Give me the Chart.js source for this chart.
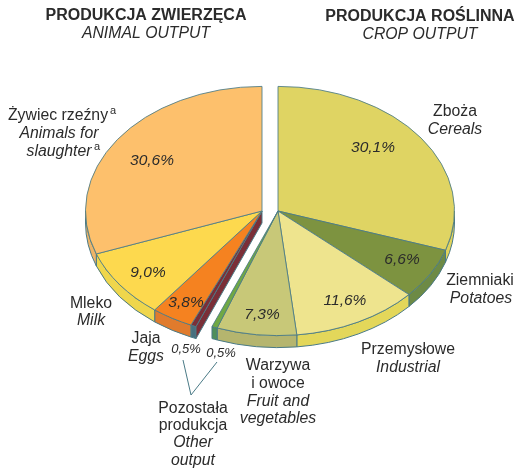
<!DOCTYPE html>
<html>
<head>
<meta charset="utf-8">
<script src="https://cdn.jsdelivr.net/npm/chart.js@4"></script>
<style>
  html, body { margin: 0; padding: 0; background: #fff; }
  #wrap { position: relative; width: 517px; height: 468px; }
</style>
</head>
<body>
<div id="wrap"><canvas id="pie" width="517" height="468"></canvas></div>
<script>
const cropNames = ['Zboża', 'Ziemniaki', 'Przemysłowe', 'Warzywa i owoce', 'Pozostała produkcja'];
const cropValues = [30.1, 6.6, 11.6, 7.3, 0.5];
const animalNames = ['Pozostała produkcja', 'Jaja', 'Mleko', 'Żywiec rzeźny'];
const animalValues = [0.5, 3.8, 9.0, 30.6];

const topColors = ['#dfd463', '#7d9340', '#eee48e', '#c8c878', '#70a844', '#7a2f38', '#f58220', '#fdd94e', '#fdc06c'];
const wallColors = ['#e0d35c', '#6d8a45', '#e3d75a', '#b5b56e', '#4f8f5a', '#47707f', '#e07b2d', '#efd64c', '#eeb467'];
const edgeColor = '#4a7a86';
const cutFaceColor = '#7a2f38';
const textColor = '#2b2b2b';

const groupShift = 8;
const squash = 0.706;
const depth = 12;

// [text, x, baseline, font kind]
const captions = [
  ['PRODUKCJA ZWIERZĘCA', 146, 20, 'title'],
  ['ANIMAL OUTPUT', 146, 38, 'ital'],
  ['PRODUKCJA ROŚLINNA', 420, 21, 'title'],
  ['CROP OUTPUT', 420, 39, 'ital'],
  ['Żywiec rzeźny', 58, 120, 'norm'],
  ['a', 113, 114, 'sup'],
  ['Animals for', 59, 138, 'ital'],
  ['slaughter', 59, 156, 'ital'],
  ['a', 97, 150, 'sup'],
  ['Zboża', 455, 116, 'norm'],
  ['Cereals', 455, 134, 'ital'],
  ['Ziemniaki', 480, 285, 'norm'],
  ['Potatoes', 481, 303, 'ital'],
  ['Przemysłowe', 408, 354, 'norm'],
  ['Industrial', 408, 372, 'ital'],
  ['Warzywa', 278, 370, 'norm'],
  ['i owoce', 278, 388, 'norm'],
  ['Fruit and', 278, 406, 'ital'],
  ['vegetables', 278, 423, 'ital'],
  ['Pozostała', 193, 413, 'norm'],
  ['produkcja', 193, 430, 'norm'],
  ['Other', 193, 447, 'ital'],
  ['output', 193, 465, 'ital'],
  ['Mleko', 91, 308, 'norm'],
  ['Milk', 91, 325, 'ital'],
  ['Jaja', 146, 343, 'norm'],
  ['Eggs', 146, 361, 'ital'],
  ['30,1%', 373, 152, 'pct'],
  ['30,6%', 152, 165, 'pct'],
  ['6,6%', 402, 264, 'pct'],
  ['11,6%', 345, 305, 'pct'],
  ['7,3%', 262, 319, 'pct'],
  ['3,8%', 186, 307, 'pct'],
  ['9,0%', 148, 277, 'pct'],
  ['0,5%', 186, 353, 'small'],
  ['0,5%', 221, 357, 'small']
];
const fonts = {
  title: 'bold 16px "Liberation Sans"',
  ital: 'italic 15.8px "Liberation Sans"',
  norm: '15.8px "Liberation Sans"',
  pct: 'italic 15.5px "Liberation Sans"',
  small: 'italic 13px "Liberation Sans"',
  sup: '11px "Liberation Sans"'
};

function shiftFor(i) {
  return i < cropValues.length ? groupShift : -groupShift;
}

// tilted pie: side walls first, then the library's own arcs squashed into an ellipse
const tiltPlugin = {
  id: 'tilt',
  beforeDatasetDraw(chart, args) {
    const ctx = chart.ctx;
    const arcs = args.meta.data;
    const rx = arcs[0].outerRadius;
    const ry = rx * squash;

    arcs.forEach((arc, i) => {
      const a0 = Math.max(arc.startAngle, 0);
      const a1 = Math.min(arc.endAngle, Math.PI);
      if (a1 <= a0) return;
      const cx = arc.x + shiftFor(i);
      ctx.beginPath();
      ctx.ellipse(cx, arc.y + depth, rx, ry, 0, a0, a1);
      ctx.ellipse(cx, arc.y, rx, ry, 0, a1, a0, true);
      ctx.closePath();
      ctx.fillStyle = wallColors[i];
      ctx.fill();
      ctx.strokeStyle = edgeColor;
      ctx.lineWidth = 1;
      ctx.stroke();
    });

    // cut face of the animal half, seen through the gap
    const first = arcs[cropValues.length];
    const cx = first.x - groupShift;
    const ex = cx + rx * Math.cos(first.startAngle);
    const ey = first.y + ry * Math.sin(first.startAngle);
    ctx.beginPath();
    ctx.moveTo(cx, first.y);
    ctx.lineTo(ex, ey);
    ctx.lineTo(ex, ey + depth);
    ctx.lineTo(cx, first.y + depth);
    ctx.closePath();
    ctx.fillStyle = cutFaceColor;
    ctx.fill();
    ctx.strokeStyle = edgeColor;
    ctx.stroke();

    arcs.forEach((arc, i) => {
      ctx.save();
      ctx.translate(shiftFor(i), arc.y);
      ctx.scale(1, squash);
      ctx.translate(0, -arc.y);
      arc.draw(ctx);
      ctx.restore();
    });
    return false;
  }
};

const captionPlugin = {
  id: 'captions',
  afterDraw(chart) {
    const ctx = chart.ctx;
    ctx.save();
    // leader lines to the two 0,5% slices
    ctx.strokeStyle = edgeColor;
    ctx.lineWidth = 1;
    ctx.beginPath();
    ctx.moveTo(183, 360);
    ctx.lineTo(191, 395);
    ctx.lineTo(217, 362);
    ctx.stroke();
    ctx.textAlign = 'center';
    ctx.textBaseline = 'alphabetic';
    ctx.fillStyle = textColor;
    for (const [text, x, y, kind] of captions) {
      ctx.font = fonts[kind];
      ctx.fillText(text, x, y);
    }
    ctx.restore();
  }
};

new Chart(document.getElementById('pie'), {
  type: 'pie',
  data: {
    labels: cropNames.concat(animalNames),
    datasets: [{
      data: cropValues.concat(animalValues),
      backgroundColor: topColors,
      borderColor: edgeColor,
      borderWidth: 1
    }]
  },
  options: {
    responsive: false,
    animation: false,
    layout: { padding: { left: 93, right: 70, top: 34, bottom: 80 } },
    plugins: { legend: { display: false }, tooltip: { enabled: false } }
  },
  plugins: [tiltPlugin, captionPlugin]
});
</script>
</body>
</html>
